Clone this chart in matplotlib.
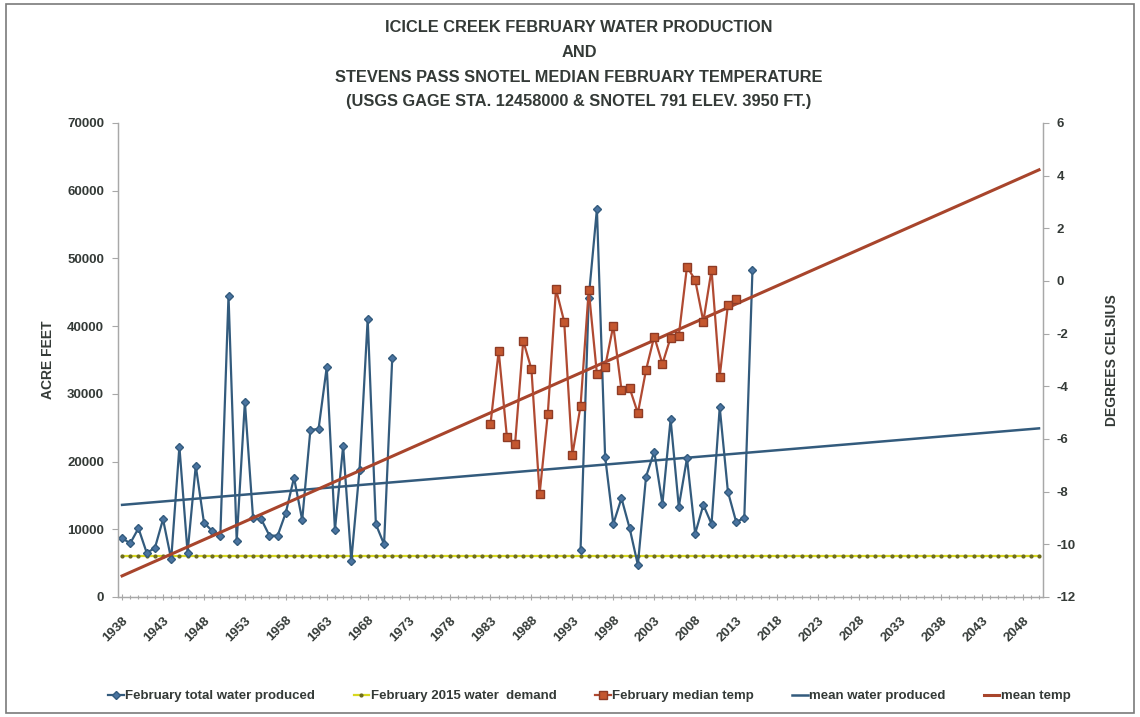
import numpy as np
import pandas as pd
import matplotlib
matplotlib.use("Agg")
import matplotlib.pyplot as plt
from matplotlib.patches import Rectangle

# category axis of the chart
first_year = 1938
last_year = 2050

# february total water produced (acre feet)
water_years = [1938, 1939, 1940, 1941, 1942, 1943, 1944, 1945, 1946, 1947,
               1948, 1949, 1950, 1951, 1952, 1953, 1954, 1955, 1956, 1957,
               1958, 1959, 1960, 1961, 1962, 1963, 1964, 1965, 1966, 1967,
               1968, 1969, 1970, 1971,
               1994, 1995, 1996, 1997, 1998, 1999, 2000, 2001, 2002, 2003,
               2004, 2005, 2006, 2007, 2008, 2009, 2010, 2011, 2012, 2013,
               2014, 2015]
water_af = [8670, 7930, 10150, 6550, 7190, 11480, 5570, 22200, 6550, 19400,
            10980, 9750, 9060, 44500, 8270, 28800, 11620, 11480, 9060, 9060,
            12450, 17620, 11370, 24670, 24820, 33970, 9900, 22300, 5360, 18760,
            41060, 10740, 7780, 35300,
            6940, 44200, 57300, 20730, 10780, 14580, 10140, 4730, 17770, 21460,
            13740, 26250, 13340, 20490, 9350, 13590, 10780, 28020, 15550, 11120,
            11620, 48300]

# february 2015 water demand (acre feet)
demand_2015 = 6000

# february median temperature (deg C)
temp_years = list(range(1983, 2014))
temp_c = [-5.44, -2.66, -5.91, -6.20, -2.27, -3.35, -8.09, -5.05, -0.31, -1.54,
          -6.61, -4.75, -0.34, -3.53, -3.25, -1.70, -4.14, -4.07, -5.02, -3.38,
          -2.11, -3.15, -2.15, -2.08, 0.54, 0.04, -1.54, 0.42, -3.63, -0.91,
          -0.68]

# trend lines (end points)
trend_years = [1938, 2050]
mean_water = [13600, 24900]
mean_temp = [-11.2, 4.22]

title_lines = [
    "ICICLE CREEK FEBRUARY WATER PRODUCTION",
    "AND",
    "STEVENS PASS SNOTEL MEDIAN FEBRUARY TEMPERATURE",
    "(USGS GAGE STA. 12458000 & SNOTEL 791 ELEV. 3950 FT.)",
]

plt.rcParams["font.family"] = ["Liberation Sans", "DejaVu Sans"]
text_col = "#343a37"
blue = "#335b7d"
red = "#b04a32"

all_years = np.arange(first_year, last_year + 1)
water = pd.Series(water_af, index=water_years).reindex(all_years)

fig = plt.figure(figsize=(11.4, 7.17), dpi=100)
ax = fig.add_axes([0.1035, 0.1674, 0.8115, 0.6611])
ax2 = ax.twinx()

# left axis series
ax.plot(all_years, water.values, color=blue, lw=1.6, marker="D", ms=4,
        mfc="#4a74a0", mec=blue, label="February total water produced", zorder=3)
ax.plot(all_years, [demand_2015] * len(all_years), color="#d8d820", lw=1.6,
        marker="o", ms=2, mfc="#6b6b20", mec="#6b6b20",
        label="February 2015 water  demand", zorder=2)
ax.plot(trend_years, mean_water, color=blue, lw=1.8, label="mean water produced", zorder=2)

# right axis series
ax2.plot(temp_years, temp_c, color=red, lw=1.6, marker="s", ms=6,
         mfc="#c4572f", mec="#8e3b25", label="February median temp", zorder=3)
ax2.plot(trend_years, mean_temp, color="#a8452c", lw=2.2, label="mean temp", zorder=2)

ax.set_xlim(first_year - 0.5, last_year + 0.5)
ax.set_ylim(0, 70000)
ax2.set_ylim(-12, 6)
ax.set_yticks(np.arange(0, 70001, 10000))
ax2.set_yticks(np.arange(-12, 7, 2))
ax.set_xticks(np.arange(first_year, last_year + 1, 5))
ax.set_xticks(all_years, minor=True)

tick_font = dict(fontsize=9.5, fontweight="bold", color=text_col)
ax.set_yticklabels([str(v) for v in range(0, 70001, 10000)], **tick_font)
ax2.set_yticklabels([str(v) for v in range(-12, 7, 2)], **tick_font)
ax.set_xticklabels([str(y) for y in range(first_year, last_year + 1, 5)],
                   rotation=45, ha="right", rotation_mode="anchor", **tick_font)

for a in (ax, ax2):
    a.spines["top"].set_visible(False)
    for side in ("left", "right", "bottom"):
        a.spines[side].set_color("#a8a8a8")
        a.spines[side].set_linewidth(0.9)
    a.tick_params(which="both", color="#a8a8a8", length=4, width=0.8, pad=6)
ax.tick_params(axis="x", which="minor", length=3, direction="inout")
ax.tick_params(axis="x", which="major", length=5, direction="inout", pad=10)

ax.set_ylabel("ACRE FEET", fontsize=10, fontweight="bold", color=text_col, labelpad=9)
ax2.set_ylabel("DEGREES CELSIUS", fontsize=10, fontweight="bold", color=text_col,
               rotation=90, labelpad=21)

for i, line in enumerate(title_lines):
    fig.text(0.508, 1 - (28 + i * 24.5) / 717, line, ha="center", va="center",
             fontsize=11.8, fontweight="bold", color=text_col)

h1, l1 = ax.get_legend_handles_labels()
h2, l2 = ax2.get_legend_handles_labels()
handles = [h1[0], h1[1], h2[0], h1[2], h2[1]]
labels = [l1[0], l1[1], l2[0], l1[2], l2[1]]
fig.legend(handles, labels, loc="center", bbox_to_anchor=(0.517, 0.029), ncol=5,
           frameon=False, handlelength=1.2, handletextpad=0.1, columnspacing=2.9,
           prop={"size": 9.5, "weight": "bold"}, labelcolor=text_col)

fig.patches.append(Rectangle((0.005, 0.006), 0.99, 0.988, transform=fig.transFigure,
                             fill=False, edgecolor="#7a7a7a", lw=1.2))

fig.savefig("out.png", dpi=100)
